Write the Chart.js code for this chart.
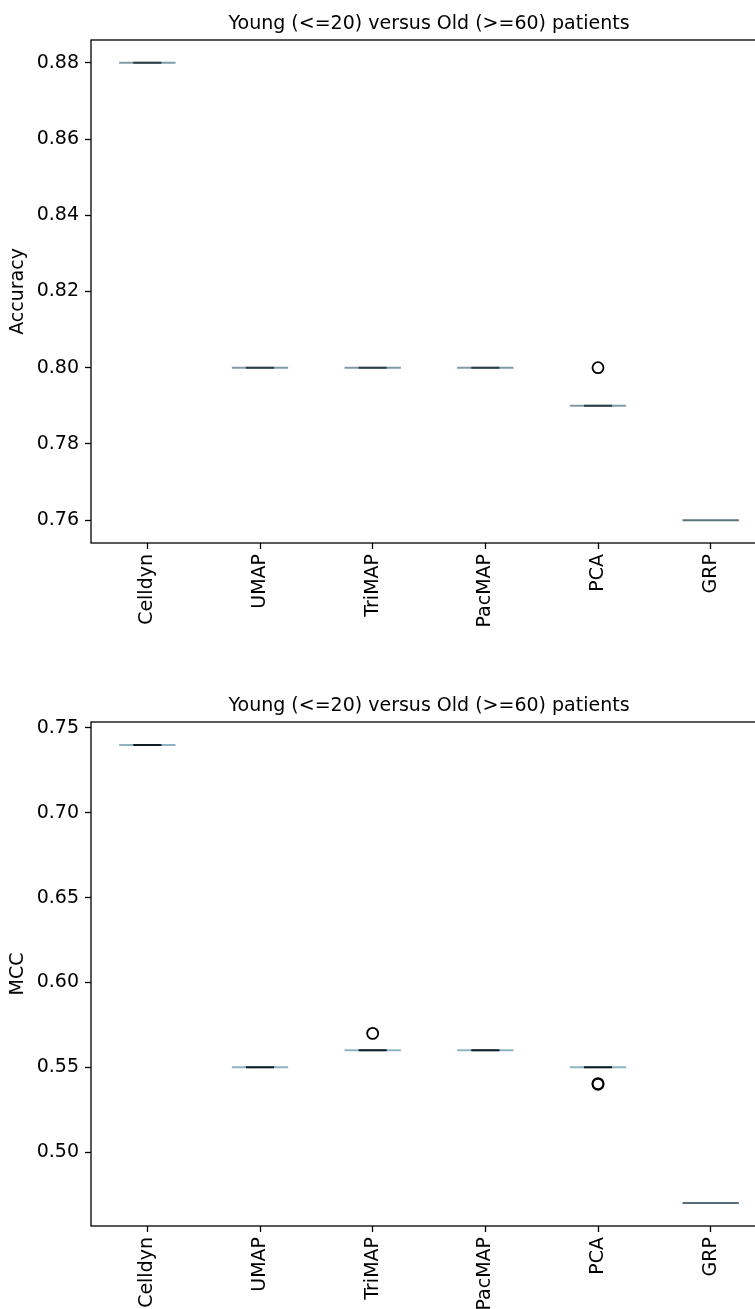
<!DOCTYPE html>
<html><head><meta charset="utf-8">
<script src="https://cdn.jsdelivr.net/npm/chart.js@4.4.1/dist/chart.umd.min.js"></script>
<style>
html,body{margin:0;padding:0;overflow:hidden;background:#fff;width:755px;height:1309px;}
.wrap{position:absolute;left:0;width:800px;height:660px;}
canvas{display:block;}
</style></head><body>
<div class="wrap" style="top:0"><canvas id="c1" width="800" height="660"></canvas></div>
<div class="wrap" style="top:660px"><canvas id="c2" width="800" height="660"></canvas></div>
<script>
const categories = ['Celldyn','UMAP','TriMAP','PacMAP','PCA','GRP'];
const accuracyMedians = [0.88, 0.80, 0.80, 0.80, 0.79, 0.76];
const accuracyOutliers = [[], [], [], [], [0.80], []];
const mccMedians = [0.74, 0.55, 0.56, 0.56, 0.55, 0.47];
const mccOutliers = [[], [], [0.57], [], [0.54, 0.5404], []];
const accuracyTicks = [0.76, 0.78, 0.80, 0.82, 0.84, 0.86, 0.88];
const mccTicks = [0.50, 0.55, 0.60, 0.65, 0.70, 0.75];
const titleText = 'Young (<=20) versus Old (>=60) patients';

const FS = 19;
Chart.defaults.font.family = "'DejaVu Sans', sans-serif";
Chart.defaults.font.size = FS;
Chart.defaults.color = '#000';

const frame = {
  id: 'frame',
  afterDraw(chart, args, opts) {
    const a = chart.chartArea, ctx = chart.ctx;
    ctx.save();
    ctx.strokeStyle = '#000';
    ctx.lineWidth = 1.3;
    ctx.strokeRect(a.left, a.top, a.right - a.left, a.bottom - a.top);
    ctx.fillStyle = '#000';
    ctx.font = FS + "px 'DejaVu Sans', sans-serif";
    ctx.textAlign = 'center';
    ctx.textBaseline = 'alphabetic';
    ctx.fillText(opts.text, (a.left + a.right) / 2, a.top - 11);
    ctx.restore();
  }
};

function segments(medians, half) {
  const pts = [];
  medians.forEach((v, i) => {
    pts.push({x: i + 1 - half, y: v}, {x: i + 1 + half, y: v}, {x: i + 1 + half, y: null});
  });
  return pts;
}
function outlierPoints(outs) {
  const pts = [];
  outs.forEach((arr, i) => arr.forEach(v => pts.push({x: i + 1, y: v})));
  return pts;
}
function limits(medians, outs) {
  const all = medians.concat(...outs);
  const lo = Math.min(...all), hi = Math.max(...all), r = hi - lo;
  return [lo - 0.05 * r, hi + 0.05 * r];
}

function makeChart(id, medians, outs, ticks, yLabel, topPad, xHeight, boxColor, capColor, lastColor) {
  const [ymin, ymax] = limits(medians, outs);
  return new Chart(document.getElementById(id), {
    type: 'scatter',
    data: {
      datasets: [
        {data: outlierPoints(outs), showLine: false, pointRadius: 5.5, pointBorderWidth: 1.8, pointBorderColor: '#000', pointBackgroundColor: 'rgba(0,0,0,0)', pointHoverRadius: 5.5},
        {data: segments(medians.slice(0, 5), 0.125), showLine: true, spanGaps: false, borderColor: capColor, borderWidth: 2, pointRadius: 0},
        {data: segments(medians, 0.25), showLine: true, spanGaps: false, borderColor: boxColor, borderWidth: 2, pointRadius: 0,
          segment: {borderColor: c => (c.p0.parsed.x > categories.length - 0.5 ? lastColor : boxColor)}}
      ]
    },
    options: {
      responsive: false,
      animation: false,
      events: [],
      layout: {padding: {left: 0, right: 33, top: topPad, bottom: 0}},
      plugins: {
        legend: {display: false},
        tooltip: {enabled: false},
        title: {display: false},
        frame: {text: titleText}
      },
      scales: {
        x: {
          type: 'linear', min: 0.5, max: 6.5,
          afterBuildTicks: s => { s.ticks = categories.map((c, i) => ({value: i + 1})); },
          afterFit: s => { s.height = xHeight; },
          ticks: {autoSkip: false, maxRotation: 90, minRotation: 90, padding: 5,
            callback: (v, i) => categories[i]},
          grid: {display: true, drawOnChartArea: false, drawTicks: true, tickLength: 6, tickColor: '#000', tickWidth: 1.3},
          border: {display: false}
        },
        y: {
          type: 'linear', min: ymin, max: ymax,
          afterBuildTicks: s => { s.ticks = ticks.map(v => ({value: v})); },
          afterFit: s => { s.width = 91; },
          ticks: {padding: 6, callback: v => Number(v).toFixed(2)},
          grid: {display: true, drawOnChartArea: false, drawTicks: true, tickLength: 6, tickColor: '#000', tickWidth: 1.3},
          border: {display: false},
          title: {display: true, text: yLabel, color: '#000', font: {size: FS}, padding: {top: 7, bottom: 0}}
        }
      }
    },
    plugins: [frame]
  });
}

makeChart('c1', accuracyMedians, accuracyOutliers, accuracyTicks, 'Accuracy', 40, 117, '#7f9ba6', '#2f3f46', '#5a737d');
makeChart('c2', mccMedians, mccOutliers, mccTicks, 'MCC', 62, 94, '#8db4c4', '#111d22', '#55707a');
</script>
</body></html>
